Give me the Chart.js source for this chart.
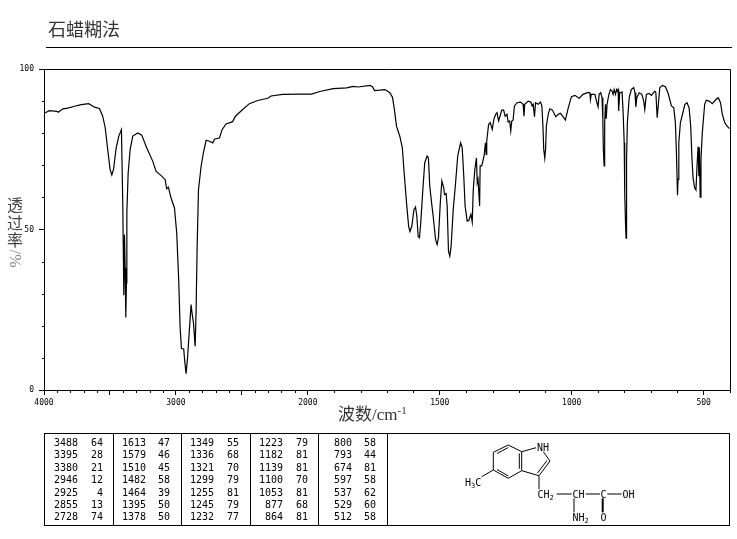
<!DOCTYPE html>
<html lang="zh">
<head>
<meta charset="utf-8">
<title>石蜡糊法</title>
<script src="https://cdn.jsdelivr.net/npm/chart.js@4"></script>
<style>
html,body{margin:0;padding:0;background:#fff;}
#page{position:relative;width:737px;height:539px;overflow:hidden;font-family:"Noto Sans CJK SC",sans-serif;}
#page canvas{position:absolute;left:0;top:0;}
.ov{position:absolute;white-space:nowrap;}
#ttl{left:48px;top:16px;font-size:18px;line-height:24px;color:#333;}
#rule{left:46px;top:47px;width:686px;height:1px;background:#000;}
#ylab{left:6px;top:197px;font-size:16px;line-height:18px;letter-spacing:1.6px;writing-mode:vertical-rl;color:#444;}
#ylab span{color:#888;font-family:"Liberation Serif",serif;letter-spacing:0;}
#xlab{left:338px;top:403px;font-size:17px;line-height:24px;color:#333;font-family:"Liberation Serif","Noto Sans CJK SC",serif;}
#xlab sup{font-size:11px;line-height:0;vertical-align:6px;}
#tbl{left:44px;top:433px;width:686px;height:93px;box-sizing:border-box;border:1px solid #000;}
.div{position:absolute;top:0;width:1px;height:91px;background:#000;}
.cell{position:absolute;font:10px/12px "DejaVu Sans Mono",monospace;color:#000;text-align:right;white-space:nowrap;}
#mol{left:0;top:0;position:absolute;}
#mol text{font:10px "DejaVu Sans Mono",monospace;fill:#000;}
#mol .s{font-size:7px;}
</style>
</head>
<body>
<div id="page">
<canvas id="c" width="737" height="539"></canvas>
<div class="ov" id="ttl">石蜡糊法</div>
<div class="ov" id="rule"></div>
<div class="ov" id="ylab">透过率<span>/%</span></div>
<div class="ov" id="xlab">波数/cm<sup>-1</sup></div>
<div class="ov" id="tbl"></div>
<svg id="mol" width="737" height="539" stroke="#000" fill="none" stroke-width="1">
  <path d="M508.3 445L521.7 451.7V470.7L508.3 478.3L493.3 470V452.3Z"/>
  <path d="M508.3 447.5L497 453.5M519.3 453.5V468.8M508.3 476L497 469.5"/>
  <path d="M521.7 451.7L536 447.7M543.3 451.7L550 461L539 475.7L521.7 470.7M547 460.5L537.5 473M539 475.7V489.3"/>
  <path d="M493.3 470L481.7 476.7"/>
  <path d="M556.7 494H571.7M585.7 494H600M607.3 494H621.7M574 498.3V512.3"/>
  <path d="M602.7 498.3V512.3" stroke-width="2"/>
  <g stroke="none">
    <text x="537" y="451">NH</text>
    <text x="465" y="486">H<tspan class="s" dy="2">3</tspan><tspan dy="-2">C</tspan></text>
    <text x="537.5" y="497.5">CH<tspan class="s" dy="2">2</tspan></text>
    <text x="572.5" y="497.5">CH</text>
    <text x="600.5" y="497.5">C</text>
    <text x="622.5" y="497.5">OH</text>
    <text x="572.5" y="521">NH<tspan class="s" dy="2">2</tspan></text>
    <text x="600.5" y="521">O</text>
  </g>
</svg>
</div>
<script>
// Spectrum: wavenumber (cm-1) and transmittance (%)
const wavenumbers = [4000,3958,3903,3892,3857,3820,3769,3718,3661,3617,3580,3555,3536,3517,3499,3486,3473,3453,3433,3413,3403,3395,3390,3385,3380,3375,3372,3362,3347,3327,3289,3259,3221,3176,3150,3112,3082,3070,3057,3037,3011,2994,2979,2968,2958,2941,2933,2923,2911,2898,2885,2878,2867,2854,2847,2839,2829,2809,2792,2771,2746,2721,2706,2670,2650,2620,2570,2549,2494,2443,2380,2304,2279,2191,2061,1986,1955,1904,1853,1828,1809,1765,1755,1747,1727,1708,1689,1679,1672,1664,1651,1642,1635,1626,1618,1613,1606,1598,1592,1587,1582,1577,1572,1565,1557,1548,1543,1538,1531,1525,1516,1510,1505,1498,1492,1485,1482,1476,1472,1467,1462,1457,1449,1440,1432,1421,1415,1409,1404,1396,1390,1382,1377,1373,1367,1361,1358,1355,1349,1347,1341,1332,1327,1324,1322,1315,1309,1301,1295,1288,1283,1277,1265,1258,1252,1245,1241,1235,1231,1227,1222,1217,1207,1194,1184,1181,1178,1165,1155,1150,1146,1141,1137,1127,1118,1113,1109,1106,1102,1099,1096,1089,1083,1073,1060,1051,1043,1032,1024,1013,1001,988,972,957,938,931,929,926,912,906,900,896,890,885,882,880,877,875,872,869,866,859,853,847,843,839,834,830,827,824,822,818,809,805,801,799,796,794,792,789,782,774,765,760,757,753,744,734,727,723,717,707,698,685,681,676,671,666,656,645,635,622,613,607,603,599,597,594,588,580,571,563,555,549,544,540,534,529,525,521,518,516,513,510,505,496,490,479,467,451,444,436,429,420,411,402];
const transmittance = [86.2,87.0,86.8,86.5,87.6,87.8,88.4,88.9,89.2,88.1,87.7,85.3,81.7,74.9,68.7,67.0,68.7,75.4,79.1,81.1,58.3,29.5,48.4,38.0,22.6,33.4,55.2,67.6,74.9,79.1,80.1,79.4,75.4,71.3,68.1,66.8,65.6,62.7,63.2,59.8,56.7,48.9,34.4,19.3,12.9,12.8,8.9,5.1,10.5,18.8,26.6,24.0,20.9,13.6,25.0,44.8,62.4,69.7,73.9,77.8,77.5,77.0,78.2,78.5,81.1,82.9,83.6,85.3,87.4,89.2,90.2,90.9,91.6,92.1,92.2,92.2,93.0,93.9,94.1,94.6,94.4,94.9,94.5,93.3,93.4,93.6,92.6,91.1,87.4,82.2,78.9,75.5,67.7,58.3,51.0,49.4,51.0,56.2,57.0,54.2,47.9,47.4,52.1,61.4,70.8,72.9,72.3,63.5,58.3,54.2,46.9,45.3,47.4,58.3,65.1,63.0,60.9,61.2,57.3,43.3,41.7,44.8,56.2,64.6,72.9,77.0,75.5,66.6,57.3,52.6,52.8,54.7,52.3,62.5,68.7,72.3,64.6,65.6,57.3,69.8,69.8,72.9,77.0,73.4,77.5,82.7,83.3,81.2,84.3,85.9,86.4,83.8,87.2,87.2,85.3,85.9,83.5,83.8,80.7,83.8,84.1,88.5,89.5,89.7,89.0,85.3,89.0,90.0,89.7,88.5,89.0,85.1,89.5,89.0,89.7,88.5,82.2,75.0,72.2,75.0,82.2,85.9,87.6,87.2,85.1,85.9,86.2,85.1,84.1,87.9,91.4,91.8,90.9,92.1,92.7,92.6,90.5,92.1,92.1,90.0,88.2,92.1,92.6,91.1,84.3,75.0,69.8,83.3,89.0,84.5,89.0,92.1,93.6,93.1,92.1,93.6,92.1,93.6,93.1,93.6,86.9,92.6,92.8,86.4,77.0,61.4,52.1,47.3,71.8,83.3,91.1,93.6,94.2,92.6,88.2,91.1,92.6,92.1,90.0,87.4,92.1,92.4,91.8,93.1,92.6,84.8,89.5,94.2,94.9,94.5,92.6,88.5,87.9,83.3,73.9,60.7,65.6,77.0,83.3,85.9,89.0,89.5,87.9,82.2,71.8,66.1,63.0,62.3,69.8,75.8,66.6,75.5,60.1,71.8,80.1,89.0,90.3,90.0,89.2,90.7,91.0,89.5,85.9,83.3,82.2,81.4];

// Axis ticks
const xMajorTicks = [4000,3500,3000,2500,2000,1500,1000,500];
const xLabelled = [4000,3000,2000,1500,1000,500];
const xMinorTicks = [3900,3800,3700,3600,3400,3300,3200,3100,2900,2800,2700,2600,2400,2300,2200,2100,1900,1800,1700,1600,1400,1300,1200,1100,900,800,700,600,400];
const yMinorTicks = [10,20,30,40,60,70,80,90];

// Peak table, one array per column: wavenumber, transmittance
const peakWn = [
  [3488,3395,3380,2946,2925,2855,2728],
  [1613,1579,1510,1482,1464,1395,1378],
  [1349,1336,1321,1299,1255,1245,1232],
  [1223,1182,1139,1100,1053,877,864],
  [800,793,674,597,537,529,512]
];
const peakT = [
  [64,28,21,12,4,13,74],
  [47,46,45,58,39,50,50],
  [55,68,70,79,81,79,77],
  [79,81,81,70,81,68,81],
  [58,44,81,58,62,60,58]
];

// Fill the table
const tbl = document.getElementById('tbl');
const dividers = [68,136,205,273,342];
const wnRight = [33,101,169,238,307];
const tRight = [58,125,194,263,331];
dividers.forEach(function (d) {
  const e = document.createElement('div');
  e.className = 'div'; e.style.left = d + 'px'; tbl.appendChild(e);
});
peakWn.forEach(function (col, c) {
  col.forEach(function (v, r) {
    [[v, wnRight[c]], [peakT[c][r], tRight[c]]].forEach(function (p) {
      const e = document.createElement('div');
      e.className = 'cell';
      e.textContent = p[0];
      e.style.right = (684 - p[1]) + 'px';
      e.style.top = (3 + r * 12.4) + 'px';
      tbl.appendChild(e);
    });
  });
});

// The wavenumber axis doubles its scale below 2000 cm-1
class BrokenWavenumberScale extends Chart.LinearScale {
  getPixelForValue(value) {
    if (value === null || value === undefined) return NaN;
    const pos = value >= 2000 ? (4000 - value) / 2 : 1000 + (2000 - value);
    return this.getPixelForDecimal(pos / 2600);
  }
}
BrokenWavenumberScale.id = 'brokenWavenumber';
BrokenWavenumberScale.defaults = Chart.LinearScale.defaults;
Chart.register(BrokenWavenumberScale);

const framePlugin = {
  id: 'frameAndMinorTicks',
  afterDraw(chart) {
    const ctx = chart.ctx, a = chart.chartArea, x = chart.scales.x, y = chart.scales.y;
    ctx.save();
    ctx.strokeStyle = '#000';
    ctx.lineWidth = 1;
    ctx.beginPath();
    const L = Math.round(a.left) + 0.5, R = Math.round(a.right) + 0.5;
    const T = Math.round(a.top) + 0.5, B = Math.round(a.bottom) + 0.5;
    ctx.rect(L, T, R - L, B - T);
    xMinorTicks.forEach(function (v) {
      const p = Math.round(x.getPixelForValue(v)) + 0.5;
      ctx.moveTo(p, B); ctx.lineTo(p, B + 2.5);
    });
    yMinorTicks.forEach(function (v) {
      const p = Math.round(y.getPixelForValue(v)) + 0.5;
      ctx.moveTo(L, p); ctx.lineTo(L - 2.5, p);
    });
    ctx.stroke();
    ctx.restore();
  }
};

const tickFont = { family: '"DejaVu Sans Mono", monospace', size: 8 };

new Chart(document.getElementById('c'), {
  type: 'scatter',
  data: {
    datasets: [{
      data: wavenumbers.map(function (w, i) { return { x: w, y: transmittance[i] }; }),
      showLine: true,
      borderColor: '#000',
      borderWidth: 1.2,
      pointRadius: 0,
      tension: 0,
      fill: false
    }]
  },
  options: {
    responsive: false,
    animation: false,
    events: [],
    layout: { padding: { left: 0, right: 7, top: 69, bottom: 0 } },
    plugins: { legend: { display: false }, tooltip: { enabled: false }, title: { display: false } },
    scales: {
      x: {
        type: 'brokenWavenumber',
        min: 400,
        max: 4000,
        afterFit: function (s) { s.height = 149; },
        afterBuildTicks: function (s) { s.ticks = xMajorTicks.map(function (v) { return { value: v }; }); },
        grid: { display: true, drawOnChartArea: false, drawTicks: true, tickLength: 5, tickColor: '#000', color: '#000' },
        border: { display: true, color: '#000', width: 1 },
        ticks: {
          color: '#000', font: tickFont, padding: 3, maxRotation: 0, autoSkip: false,
          callback: function (v) { return xLabelled.indexOf(v) >= 0 ? String(v) : ''; }
        }
      },
      y: {
        min: 0,
        max: 100,
        afterFit: function (s) { s.width = 44; },
        grid: { display: true, drawOnChartArea: false, drawTicks: true, tickLength: 5, tickColor: '#000', color: '#000' },
        border: { display: true, color: '#000', width: 1 },
        ticks: { color: '#000', font: tickFont, padding: 5, stepSize: 50 }
      }
    }
  },
  plugins: [framePlugin]
});
</script>
</body>
</html>
